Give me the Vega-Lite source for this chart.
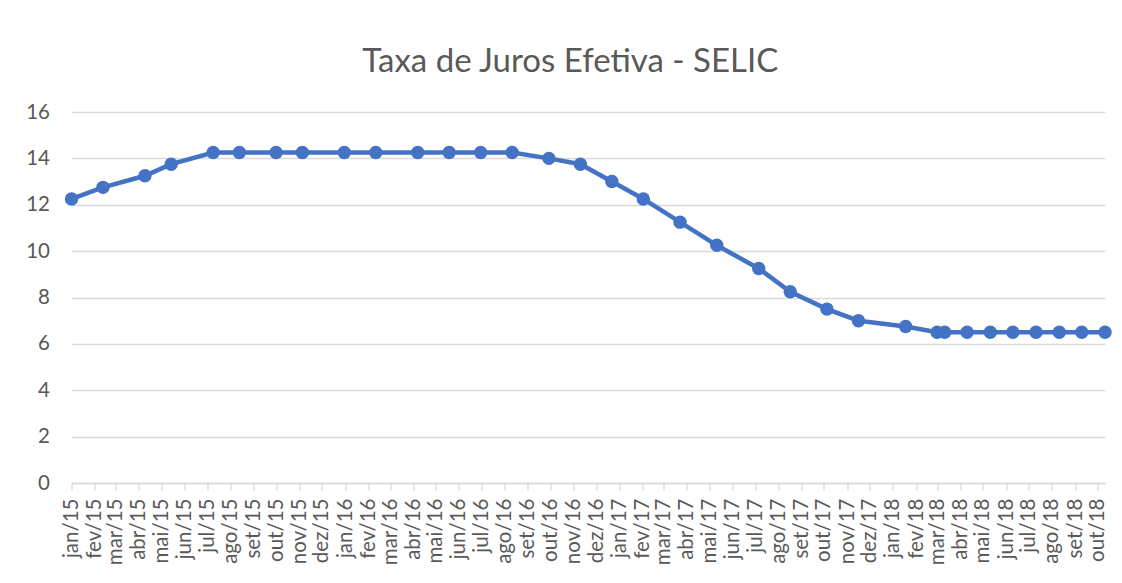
{
  "$schema": "https://vega.github.io/schema/vega-lite/v6.json",
  "autosize": {"type": "none"},
  "width": 1033.5,
  "height": 371,
  "padding": {"left": 71.5, "top": 112, "right": 17, "bottom": 100},
  "background": "white",
  "config": {
    "font": "Lato",
    "view": {"stroke": null},
    "axis": {"labelColor": "#595959", "labelFont": "Lato", "domainColor": "#d9d9d9", "tickColor": "#d9d9d9", "gridColor": "#d9d9d9"}
  },
  "title": {
    "text": "Taxa de Juros Efetiva - SELIC",
    "fontSize": 33,
    "fontWeight": "normal",
    "color": "#595959",
    "font": "Lato",
    "anchor": "middle",
    "dx": -18,
    "offset": 23
  },
  "data": {
    "values": [
      {"data": "2015-01-21", "selic": 12.25},
      {"data": "2015-03-04", "selic": 12.75},
      {"data": "2015-04-29", "selic": 13.25},
      {"data": "2015-06-03", "selic": 13.75},
      {"data": "2015-07-29", "selic": 14.25},
      {"data": "2015-09-02", "selic": 14.25},
      {"data": "2015-10-21", "selic": 14.25},
      {"data": "2015-11-25", "selic": 14.25},
      {"data": "2016-01-20", "selic": 14.25},
      {"data": "2016-03-02", "selic": 14.25},
      {"data": "2016-04-27", "selic": 14.25},
      {"data": "2016-06-08", "selic": 14.25},
      {"data": "2016-07-20", "selic": 14.25},
      {"data": "2016-08-31", "selic": 14.25},
      {"data": "2016-10-19", "selic": 14.0},
      {"data": "2016-11-30", "selic": 13.75},
      {"data": "2017-01-11", "selic": 13.0},
      {"data": "2017-02-22", "selic": 12.25},
      {"data": "2017-04-12", "selic": 11.25},
      {"data": "2017-05-31", "selic": 10.25},
      {"data": "2017-07-26", "selic": 9.25},
      {"data": "2017-09-06", "selic": 8.25},
      {"data": "2017-10-25", "selic": 7.5},
      {"data": "2017-12-06", "selic": 7.0},
      {"data": "2018-02-07", "selic": 6.75},
      {"data": "2018-03-21", "selic": 6.5},
      {"data": "2018-03-31", "selic": 6.5},
      {"data": "2018-04-30", "selic": 6.5},
      {"data": "2018-05-31", "selic": 6.5},
      {"data": "2018-06-30", "selic": 6.5},
      {"data": "2018-07-31", "selic": 6.5},
      {"data": "2018-08-31", "selic": 6.5},
      {"data": "2018-09-30", "selic": 6.5},
      {"data": "2018-10-31", "selic": 6.5}
    ]
  },
  "mark": {
    "type": "line",
    "color": "#4472C4",
    "strokeWidth": 4.5,
    "point": {"filled": true, "size": 180, "color": "#4472C4", "opacity": 1}
  },
  "encoding": {
    "x": {
      "field": "data",
      "type": "temporal",
      "title": null,
      "scale": {
        "type": "utc",
        "domain": [
          {"year": 2015, "month": 1, "date": 21, "utc": true},
          {"year": 2018, "month": 10, "date": 31, "utc": true}
        ]
      },
      "axis": {
        "grid": false,
        "values": [
          {"year": 2015, "month": 1, "date": 21, "utc": true},
          {"year": 2015, "month": 2, "date": 21, "utc": true},
          {"year": 2015, "month": 3, "date": 21, "utc": true},
          {"year": 2015, "month": 4, "date": 21, "utc": true},
          {"year": 2015, "month": 5, "date": 21, "utc": true},
          {"year": 2015, "month": 6, "date": 21, "utc": true},
          {"year": 2015, "month": 7, "date": 21, "utc": true},
          {"year": 2015, "month": 8, "date": 21, "utc": true},
          {"year": 2015, "month": 9, "date": 21, "utc": true},
          {"year": 2015, "month": 10, "date": 21, "utc": true},
          {"year": 2015, "month": 11, "date": 21, "utc": true},
          {"year": 2015, "month": 12, "date": 21, "utc": true},
          {"year": 2016, "month": 1, "date": 21, "utc": true},
          {"year": 2016, "month": 2, "date": 21, "utc": true},
          {"year": 2016, "month": 3, "date": 21, "utc": true},
          {"year": 2016, "month": 4, "date": 21, "utc": true},
          {"year": 2016, "month": 5, "date": 21, "utc": true},
          {"year": 2016, "month": 6, "date": 21, "utc": true},
          {"year": 2016, "month": 7, "date": 21, "utc": true},
          {"year": 2016, "month": 8, "date": 21, "utc": true},
          {"year": 2016, "month": 9, "date": 21, "utc": true},
          {"year": 2016, "month": 10, "date": 21, "utc": true},
          {"year": 2016, "month": 11, "date": 21, "utc": true},
          {"year": 2016, "month": 12, "date": 21, "utc": true},
          {"year": 2017, "month": 1, "date": 21, "utc": true},
          {"year": 2017, "month": 2, "date": 21, "utc": true},
          {"year": 2017, "month": 3, "date": 21, "utc": true},
          {"year": 2017, "month": 4, "date": 21, "utc": true},
          {"year": 2017, "month": 5, "date": 21, "utc": true},
          {"year": 2017, "month": 6, "date": 21, "utc": true},
          {"year": 2017, "month": 7, "date": 21, "utc": true},
          {"year": 2017, "month": 8, "date": 21, "utc": true},
          {"year": 2017, "month": 9, "date": 21, "utc": true},
          {"year": 2017, "month": 10, "date": 21, "utc": true},
          {"year": 2017, "month": 11, "date": 21, "utc": true},
          {"year": 2017, "month": 12, "date": 21, "utc": true},
          {"year": 2018, "month": 1, "date": 21, "utc": true},
          {"year": 2018, "month": 2, "date": 21, "utc": true},
          {"year": 2018, "month": 3, "date": 21, "utc": true},
          {"year": 2018, "month": 4, "date": 21, "utc": true},
          {"year": 2018, "month": 5, "date": 21, "utc": true},
          {"year": 2018, "month": 6, "date": 21, "utc": true},
          {"year": 2018, "month": 7, "date": 21, "utc": true},
          {"year": 2018, "month": 8, "date": 21, "utc": true},
          {"year": 2018, "month": 9, "date": 21, "utc": true},
          {"year": 2018, "month": 10, "date": 21, "utc": true}
        ],
        "labelExpr": "['jan','fev','mar','abr','mai','jun','jul','ago','set','out','nov','dez'][utcmonth(datum.value)] + '/' + utcFormat(datum.value, '%y')",
        "labelAngle": -90,
        "labelAlign": "right",
        "labelBaseline": "middle",
        "labelFontSize": 20.5,
        "labelPadding": 8,
        "tickSize": 7,
        "tickWidth": 1.3,
        "domainWidth": 1.3,
        "labelOverlap": false,
        "labelFlush": false,
        "labelBound": false
      }
    },
    "y": {
      "field": "selic",
      "type": "quantitative",
      "title": null,
      "scale": {"domain": [0, 16], "nice": false, "zero": true},
      "axis": {
        "values": [0, 2, 4, 6, 8, 10, 12, 14, 16],
        "domain": false,
        "ticks": false,
        "labelFontSize": 20.5,
        "labelPadding": 22,
        "gridWidth": 1.3
      }
    }
  }
}
